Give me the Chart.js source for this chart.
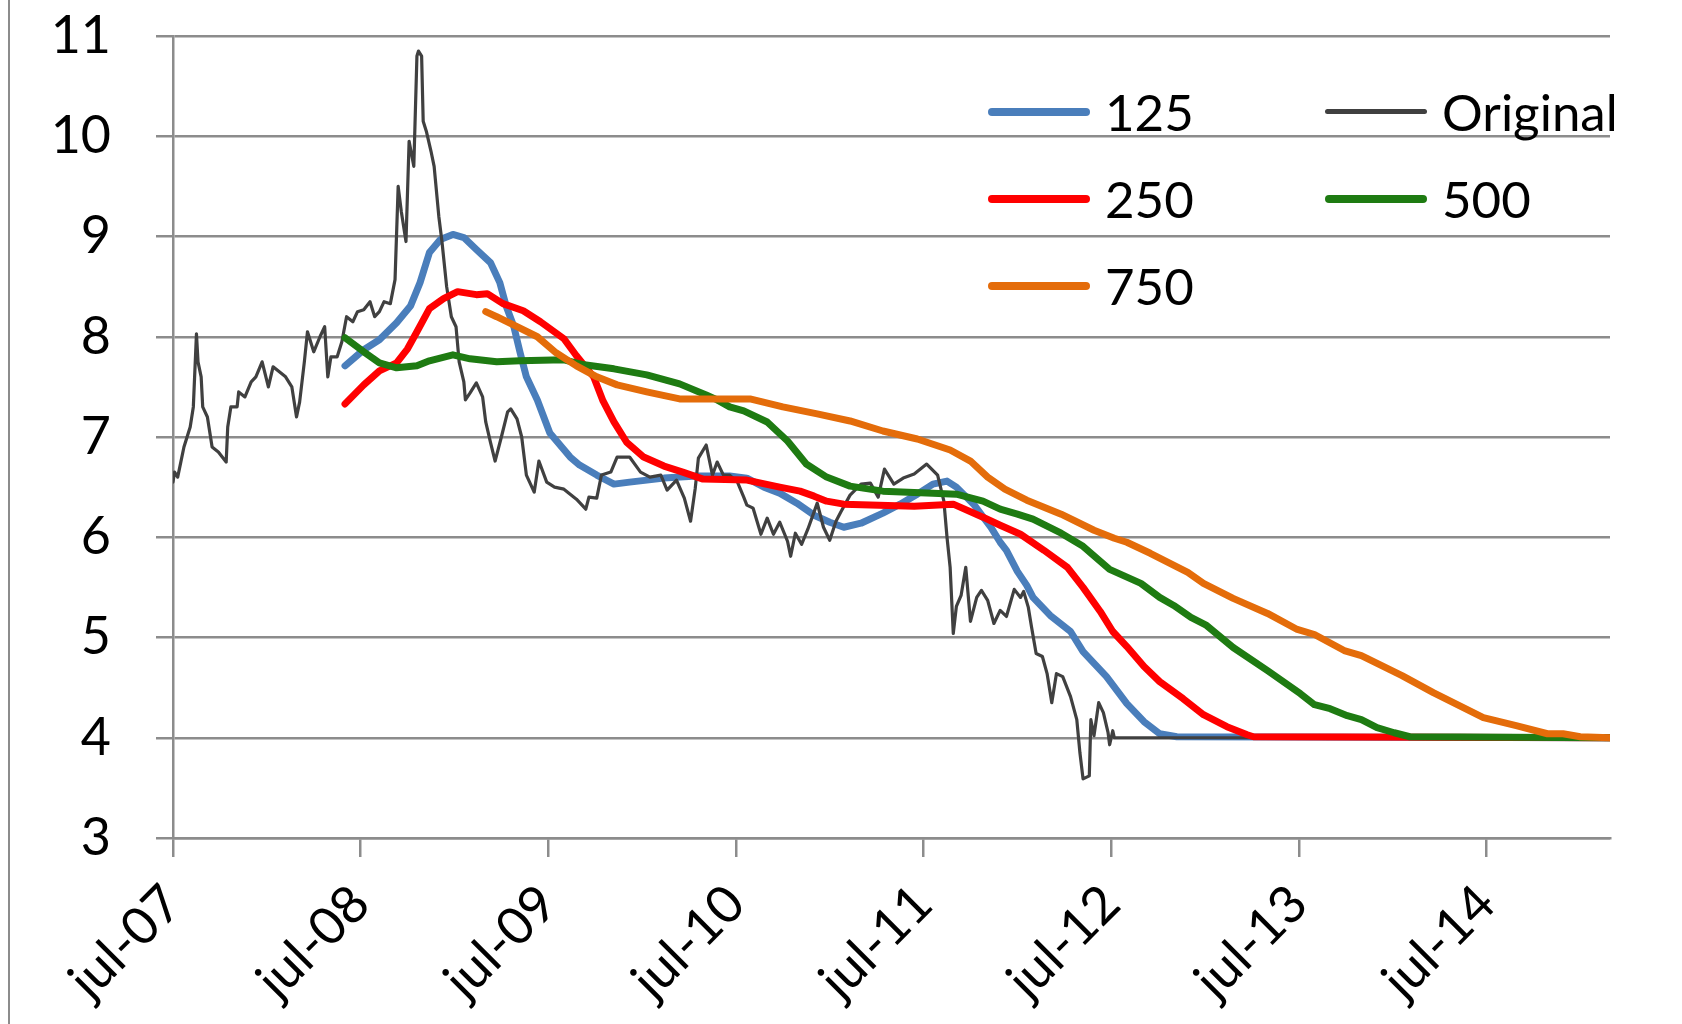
<!DOCTYPE html>
<html>
<head>
<meta charset="utf-8">
<script src="https://cdn.jsdelivr.net/npm/chart.js@4.4.1/dist/chart.umd.min.js"></script>
<style>
    html, body { margin: 0; padding: 0; background: #fff; }
    #wrap { position: relative; width: 1682px; height: 1024px; overflow: hidden; }
    #edge { position: absolute; left: 8px; top: 0; width: 2px; height: 1024px; background: #8c8c8c; }
    #legend {
        position: absolute; left: 988px; top: 68px;
        display: grid; grid-template-columns: 337px 300px; grid-auto-rows: 87px;
        font: 51px Lato, sans-serif; color: #000;
    }
    .item { display: flex; align-items: center; }
    .swatch { width: 102px; border-radius: 4px; margin-right: 15px; }
</style>
</head>
<body>
<div id="wrap">
    <div id="edge"></div>
    <canvas id="chart"></canvas>
    <div id="legend"></div>
</div>
<script>
// months counted from jul-07
const xTickMonths = [0, 12, 24, 36, 48, 60, 72, 84];
const xTickLabels = ['jul-07', 'jul-08', 'jul-09', 'jul-10', 'jul-11', 'jul-12', 'jul-13', 'jul-14'];
const lastMonth = 91.9;

const originalMonths = [0, 0.1, 0.3, 0.5, 0.7, 0.9, 1.1, 1.3, 1.5, 1.6, 1.8, 1.9, 2.2, 2.3, 2.5, 2.9, 3.4, 3.5, 3.7, 4.1,
    4.2, 4.6, 5.0, 5.3, 5.7, 6.1, 6.4, 6.8, 7.2, 7.6, 7.9, 8.1, 8.4, 8.6, 9.0, 9.4, 9.7, 9.9, 10.1, 10.5,
    10.8, 11.1, 11.5, 11.8, 12.2, 12.6, 12.9, 13.2, 13.5, 13.9, 14.2, 14.4, 14.6, 14.9, 15.1, 15.4, 15.6, 15.7, 15.9, 16.0,
    16.2, 16.5, 16.7, 17.0, 17.2, 17.5, 17.8, 18.1, 18.3, 18.6, 18.7, 19.0, 19.4, 19.8, 20.0, 20.3, 20.6, 21.0, 21.4, 21.6,
    22.0, 22.3, 22.6, 23.1, 23.4, 23.9, 24.4, 25.0, 25.8, 26.4, 26.6, 27.1, 27.4, 28.0, 28.4, 29.2, 29.9, 30.5, 31.2, 31.6,
    32.2, 32.7, 33.1, 33.4, 33.6, 34.1, 34.5, 34.8, 35.2, 35.6, 36.1, 36.5, 36.7, 37.1, 37.6, 38.0, 38.4, 38.8, 39.3, 39.5,
    39.8, 40.2, 40.6, 41.2, 41.6, 42.0, 42.4, 42.7, 43.3, 44.0, 44.6, 45.1, 45.5, 46.1, 46.7, 47.4, 48.2, 48.9, 49.3, 49.5,
    49.7, 49.9, 50.1, 50.4, 50.7, 51.0, 51.4, 51.7, 52.1, 52.5, 52.9, 53.3, 53.8, 54.2, 54.4, 54.7, 54.9, 55.2, 55.6, 55.9,
    56.2, 56.5, 56.9, 57.4, 57.8, 58.0, 58.2, 58.6, 58.7, 58.9, 59.2, 59.5, 59.8, 59.9, 60.1, 60.2, 91.9];
const originalValues = [6.55, 6.65, 6.6, 6.75, 6.9, 7.0, 7.1, 7.3, 8.03, 7.75, 7.6, 7.3, 7.2, 7.1, 6.9, 6.85, 6.75, 7.1, 7.3, 7.3,
    7.45, 7.4, 7.55, 7.6, 7.75, 7.5, 7.7, 7.65, 7.6, 7.5, 7.2, 7.35, 7.75, 8.05, 7.85, 8.0, 8.1, 7.6, 7.8, 7.8,
    7.95, 8.2, 8.15, 8.25, 8.27, 8.35, 8.2, 8.25, 8.35, 8.33, 8.57, 9.5, 9.25, 8.95, 9.95, 9.7, 10.8, 10.85, 10.8, 10.15,
    10.05, 9.85, 9.7, 9.2, 8.95, 8.5, 8.2, 8.1, 7.75, 7.55, 7.37, 7.44, 7.54, 7.4, 7.15, 6.95, 6.76, 7.0, 7.25, 7.28,
    7.18, 7.0, 6.62, 6.45, 6.76, 6.55, 6.5, 6.48, 6.38, 6.28, 6.4, 6.39, 6.62, 6.65, 6.8, 6.8, 6.65, 6.6, 6.62, 6.47,
    6.57, 6.39, 6.16, 6.49, 6.79, 6.92, 6.62, 6.75, 6.62, 6.62, 6.55, 6.4, 6.32, 6.29, 6.03, 6.19, 6.03, 6.15, 5.96, 5.81,
    6.04, 5.93, 6.08, 6.34, 6.1, 5.97, 6.16, 6.25, 6.42, 6.53, 6.54, 6.4, 6.68, 6.53, 6.59, 6.63, 6.73, 6.62, 6.36, 6.0,
    5.7, 5.04, 5.31, 5.42, 5.7, 5.16, 5.4, 5.47, 5.37, 5.14, 5.27, 5.21, 5.48, 5.4, 5.46, 5.3, 5.11, 4.84, 4.81, 4.64,
    4.35, 4.64, 4.61, 4.41, 4.18, 3.85, 3.59, 3.62, 4.18, 4.02, 4.35, 4.25, 4.05, 3.93, 4.07, 4.0, 4.0];

const ma125Months = [11.0, 12.2, 13.2, 14.3, 15.2, 15.8, 16.4, 17.1, 17.9, 18.6, 19.4, 20.3, 20.9, 21.3, 21.8, 22.2, 22.6, 23.3, 24.1, 25.4,
    26.0, 27.1, 28.2, 29.2, 31.4, 33.5, 35.6, 36.7, 37.8, 38.8, 39.9, 41.0, 42.0, 42.9, 44.0, 45.4, 46.5, 47.6, 48.6, 49.5,
    50.1, 51.2, 52.3, 52.9, 53.3, 54.0, 54.6, 55.0, 56.1, 57.4, 58.2, 59.7, 61.0, 62.1, 63.1, 64.2, 91.9];
const ma125Values = [7.71, 7.87, 7.97, 8.14, 8.31, 8.54, 8.84, 8.97, 9.02, 8.99, 8.87, 8.74, 8.54, 8.31, 8.1, 7.84, 7.6, 7.37, 7.04, 6.8,
    6.72, 6.62, 6.53, 6.55, 6.59, 6.61, 6.61, 6.59, 6.5, 6.44, 6.34, 6.22, 6.15, 6.1, 6.14, 6.24, 6.33, 6.43, 6.53, 6.56,
    6.5, 6.33, 6.1, 5.95, 5.87, 5.66, 5.52, 5.4, 5.22, 5.06, 4.86, 4.61, 4.34, 4.16, 4.04, 4.01, 4.0];

const ma250Months = [11.0, 12.2, 13.2, 14.3, 15.0, 15.6, 16.4, 17.3, 18.2, 19.4, 20.1, 21.1, 22.4, 23.5, 25.0, 25.8, 26.9, 27.5, 28.2, 29.0,
    30.1, 31.4, 32.6, 33.9, 36.7, 38.8, 40.1, 41.0, 41.8, 42.9, 47.4, 49.9, 51.8, 52.9, 54.2, 55.7, 57.2, 58.2, 59.3, 60.1,
    61.0, 62.1, 63.1, 64.6, 65.9, 67.4, 68.7, 69.1, 91.9];
const ma250Values = [7.33, 7.52, 7.66, 7.74, 7.88, 8.05, 8.28, 8.38, 8.45, 8.42, 8.43, 8.33, 8.26, 8.15, 7.98, 7.81, 7.6, 7.36, 7.15, 6.95,
    6.8, 6.71, 6.65, 6.58, 6.57, 6.5, 6.46, 6.41, 6.36, 6.33, 6.31, 6.33, 6.2, 6.12, 6.03, 5.87, 5.7, 5.5, 5.26, 5.06,
    4.91, 4.71, 4.56, 4.39, 4.23, 4.11, 4.03, 4.01, 4.0];

const ma500Months = [11.0, 12.2, 13.2, 14.3, 15.6, 16.4, 17.9, 19.0, 20.7, 22.2, 25.0, 26.3, 28.2, 30.3, 32.4, 34.1, 34.8, 35.6, 36.5, 38.0,
    39.3, 40.5, 41.8, 43.3, 45.4, 48.6, 50.1, 51.8, 52.9, 54.0, 55.0, 56.8, 58.2, 59.9, 61.9, 63.1, 64.0, 65.1, 66.1, 67.8,
    70.0, 72.1, 73.0, 74.0, 75.1, 76.0, 77.0, 78.1, 79.1, 91.9];
const ma500Values = [7.99, 7.85, 7.74, 7.69, 7.71, 7.76, 7.82, 7.78, 7.75, 7.76, 7.77, 7.72, 7.68, 7.62, 7.53, 7.42, 7.37, 7.3, 7.26, 7.15,
    6.96, 6.73, 6.6, 6.51, 6.46, 6.44, 6.43, 6.36, 6.28, 6.23, 6.18, 6.04, 5.91, 5.68, 5.54, 5.4, 5.32, 5.2, 5.12, 4.9,
    4.67, 4.44, 4.33, 4.29, 4.22, 4.18, 4.1, 4.05, 4.01, 4.0];

const ma750Months = [20.0, 20.7, 22.0, 23.3, 24.5, 25.8, 27.1, 28.4, 30.3, 32.4, 34.6, 36.9, 39.0, 41.2, 43.3, 45.4, 47.6, 49.7, 51.0, 52.1,
    53.2, 54.6, 56.8, 58.9, 60.2, 61.0, 62.5, 64.9, 65.9, 67.8, 70.0, 71.9, 73.0, 74.9, 76.0, 78.6, 80.6, 83.8, 85.9, 87.9,
    88.9, 90.0, 91.9];
const ma750Values = [8.25, 8.2, 8.1, 8.0, 7.84, 7.71, 7.6, 7.52, 7.45, 7.38, 7.38, 7.38, 7.3, 7.23, 7.16, 7.06, 6.98, 6.87, 6.76, 6.6,
    6.48, 6.37, 6.23, 6.07, 5.99, 5.95, 5.84, 5.65, 5.54, 5.39, 5.24, 5.08, 5.03, 4.87, 4.82, 4.62, 4.45, 4.2, 4.12, 4.04,
    4.04, 4.01, 4.0];

const gridColor = '#8c8c8c';
const fontFamily = 'Lato, sans-serif';
const fontSize = 52;

function toPoints(months, values) {
    return months.map((m, i) => ({ x: m, y: values[i] }));
}

function series(label, color, width, months, values) {
    return {
        label: label,
        data: toPoints(months, values),
        borderColor: color,
        backgroundColor: color,
        borderWidth: width,
        pointRadius: 0,
        tension: 0,
        borderCapStyle: 'round',
        borderJoinStyle: 'round'
    };
}

const s125 = series('125', '#4a7ebb', 7, ma125Months, ma125Values);
const sOrig = series('Original', '#404040', 3.2, originalMonths, originalValues);
const s250 = series('250', '#ff0000', 7, ma250Months, ma250Values);
const s500 = series('500', '#1e7b12', 7, ma500Months, ma500Values);
const s750 = series('750', '#e46c0a', 7, ma750Months, ma750Values);

// first dataset is painted last, so 750 sits on top like in the original
new Chart(document.getElementById('chart'), {
    type: 'line',
    data: { datasets: [s750, s500, s250, sOrig, s125] },
    options: {
        responsive: true,
        maintainAspectRatio: false,
        animation: false,
        events: [],
        layout: { padding: { top: 36, right: 72, bottom: 0, left: 0 } },
        plugins: { legend: { display: false }, tooltip: { enabled: false } },
        scales: {
            x: {
                type: 'linear',
                min: 0,
                max: lastMonth,
                afterBuildTicks: s => { s.ticks = xTickMonths.map(v => ({ value: v })); },
                afterFit: s => { s.height = 186; },
                grid: { drawOnChartArea: false, tickLength: 19, color: gridColor, lineWidth: 2.5 },
                border: { color: gridColor, width: 2.5 },
                ticks: {
                    autoSkip: false,
                    minRotation: 45,
                    maxRotation: 45,
                    padding: 16,
                    color: '#000',
                    font: { family: fontFamily, size: fontSize },
                    callback: v => xTickLabels[xTickMonths.indexOf(v)]
                }
            },
            y: {
                min: 3,
                max: 11,
                // the wide label gap should not push the plot down
                afterFit: s => { s.width = 173; s.paddingTop = 20; s.paddingBottom = 20; },
                grid: { tickLength: 17, color: gridColor, lineWidth: 2.5 },
                border: { color: gridColor, width: 2.5 },
                ticks: {
                    stepSize: 1,
                    padding: 45,
                    color: '#000',
                    font: { family: fontFamily, size: fontSize }
                }
            }
        }
    }
});

// legend: two columns, same reading order as the source
const legend = document.getElementById('legend');
[s125, sOrig, s250, s500, s750].forEach(ds => {
    const item = document.createElement('div');
    item.className = 'item';
    const sw = document.createElement('span');
    sw.className = 'swatch';
    sw.style.height = (ds.borderWidth + 1) + 'px';
    sw.style.background = ds.borderColor;
    item.appendChild(sw);
    item.appendChild(document.createTextNode(ds.label));
    legend.appendChild(item);
});
</script>
</body>
</html>
